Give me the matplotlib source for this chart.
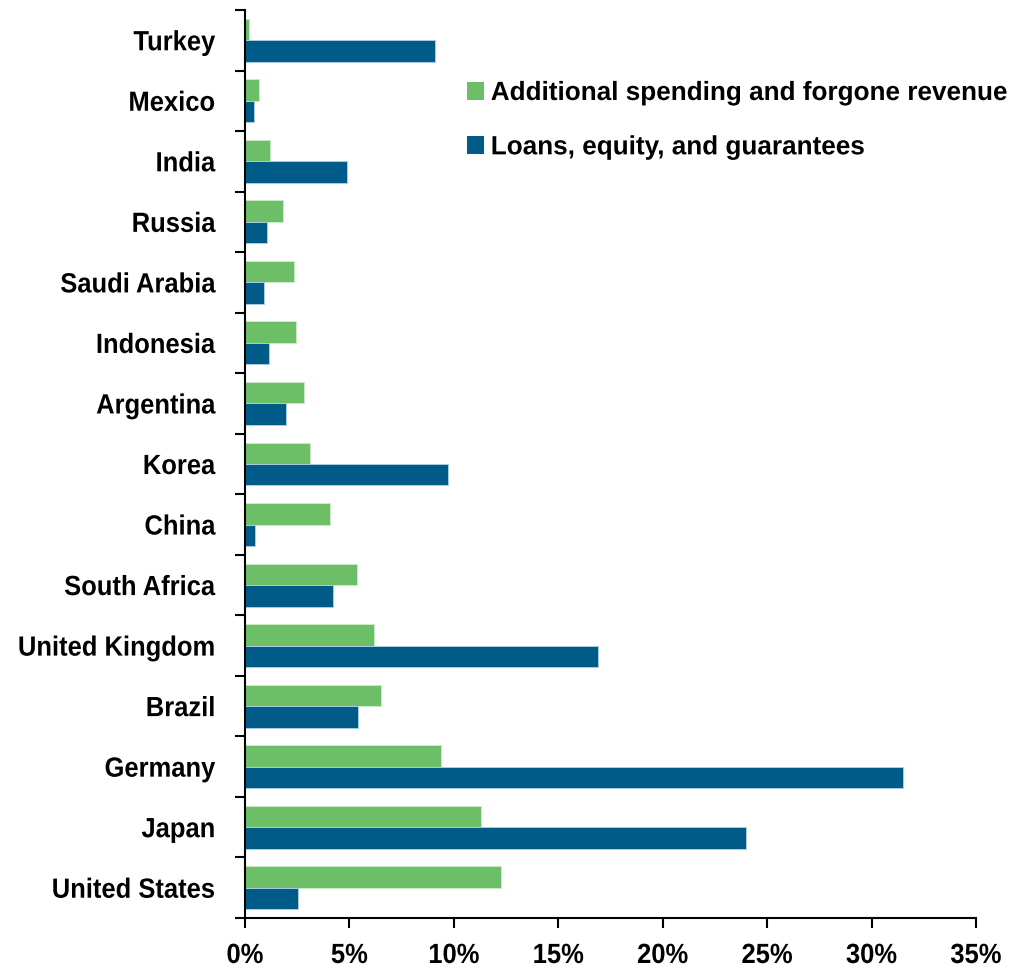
import matplotlib
matplotlib.use("Agg")
import matplotlib.pyplot as plt
import numpy as np
from matplotlib.patches import Patch
from matplotlib.ticker import FuncFormatter, FixedLocator
from matplotlib.patheffects import AbstractPathEffect
from matplotlib.transforms import Affine2D

countries = ["United States", "Japan", "Germany", "Brazil", "United Kingdom",
             "South Africa", "China", "Korea", "Argentina", "Indonesia",
             "Saudi Arabia", "Russia", "India", "Mexico", "Turkey"]
spending = [12.25, 11.3, 9.4, 6.5, 6.2, 5.35, 4.08, 3.10, 2.83, 2.43,
            2.34, 1.84, 1.2, 0.65, 0.2]
loans = [2.55, 24.0, 31.5, 5.4, 16.9, 4.2, 0.50, 9.70, 1.95, 1.14,
         0.89, 1.05, 4.9, 0.45, 9.1]
xticks = [0, 5, 10, 15, 20, 25, 30, 35]
series_names = ["Additional spending and forgone revenue",
                "Loans, equity, and guarantees"]

plt.rcParams["font.family"] = ["Liberation Sans", "DejaVu Sans"]
plt.rcParams["font.weight"] = "bold"


class XSqueeze(AbstractPathEffect):
    """Compress text horizontally around an anchor edge."""
    def __init__(self, sx, anchor):
        super().__init__()
        self.sx = sx
        self.anchor = anchor

    def draw_path(self, renderer, gc, tpath, affine, rgbFace=None):
        ext = affine.transform_path(tpath).get_extents()
        if self.anchor == "right":
            x0 = ext.x1
        elif self.anchor == "center":
            x0 = 0.5 * (ext.x0 + ext.x1)
        else:
            x0 = ext.x0
        t = affine + Affine2D().translate(-x0, 0).scale(self.sx, 1).translate(x0, 0)
        renderer.draw_path(gc, tpath, t, rgbFace)


SX = 0.92
green = "#6dbf67"
blue = "#005b88"

fig = plt.figure(figsize=(10.13, 9.71), dpi=100)
ax = fig.add_axes([245 / 1013, 1 - 918 / 971, (976 - 245) / 1013, (918 - 10) / 971])

y = np.arange(len(countries))
h = 0.355
ax.barh(y + h / 2, spending, height=h, color=green, edgecolor="#c9ecc6", linewidth=0.7)
ax.barh(y - h / 2, loans, height=h, color=blue, edgecolor="#a9cce0", linewidth=0.7)

ax.set_xlim(0, 35)
ax.set_ylim(-0.5, len(countries) - 0.5)
ax.set_xticks(xticks)
ax.xaxis.set_major_formatter(FuncFormatter(lambda v, p: f"{int(v)}%"))
ax.set_yticks(y)
ax.set_yticklabels(countries)
ax.yaxis.set_minor_locator(FixedLocator(np.arange(-0.5, len(countries), 1.0)))

for s in ["top", "right"]:
    ax.spines[s].set_visible(False)
for s in ["left", "bottom"]:
    ax.spines[s].set_linewidth(1.5)

ax.tick_params(axis="y", which="major", length=0, pad=21.5, labelsize=20)
ax.tick_params(axis="y", which="minor", length=7.2, width=1.5, direction="out")
ax.tick_params(axis="x", which="major", length=7.0, width=1.5, direction="out",
               labelsize=20, pad=11.0)
for lab in ax.get_yticklabels():
    lab.set_fontweight("bold")
    lab.set_path_effects([XSqueeze(SX, "right")])
for lab in ax.get_xticklabels():
    lab.set_fontweight("bold")
    lab.set_path_effects([XSqueeze(SX, "center")])

handles = [Patch(facecolor=green, edgecolor="none"), Patch(facecolor=blue, edgecolor="none")]
leg = fig.legend(handles, series_names, loc="upper left",
                 bbox_to_anchor=(467 / 1013, 1 - 81 / 971), frameon=False,
                 handlelength=0.65, handleheight=0.65, handletextpad=0.25,
                 labelspacing=1.15, borderpad=0, borderaxespad=0,
                 prop={"weight": "bold", "size": 19})
for t in leg.get_texts():
    t.set_path_effects([XSqueeze(0.99, "left")])

fig.savefig("out.png", dpi=100)
